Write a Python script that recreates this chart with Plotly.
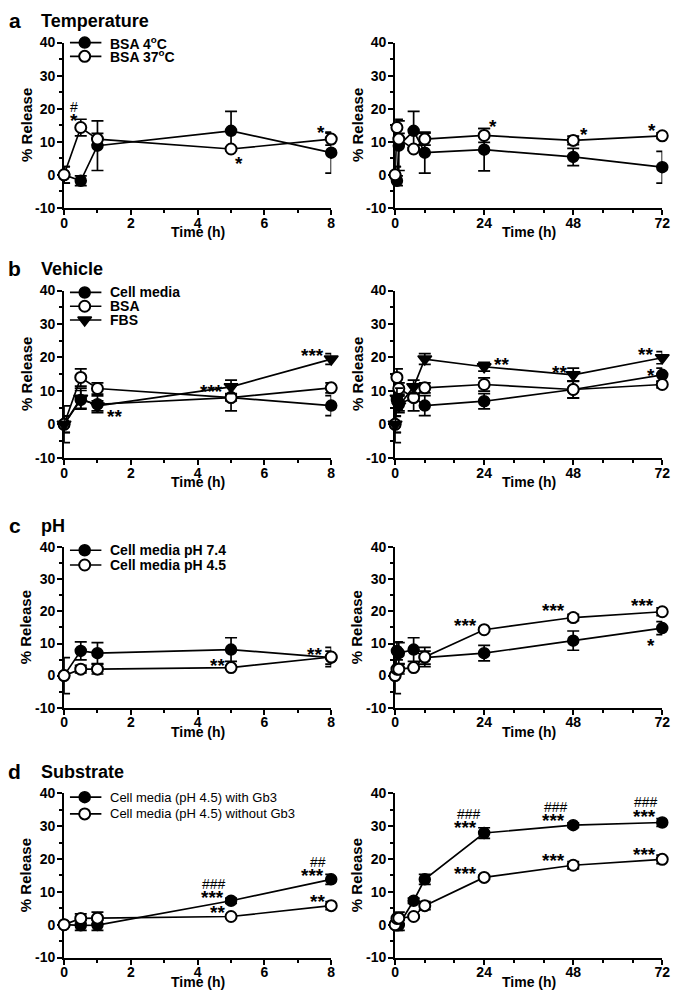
import plotly.graph_objects as go

# time points (h)
t_all = [0, 0.5, 1, 5, 8, 24, 48, 72]
y_tick_vals = [-10, 0, 10, 20, 30, 40]
y_tick_text = ['-10', '0', '10', '20', '30', '40']
x_short_ticks = [0, 2, 4, 6, 8]
x_long_ticks = [0, 24, 48, 72]

# a - Temperature
bsa4_mean = [0, -1.8, 8.8, 13.3, 6.7, 7.6, 5.4, 2.3]
bsa4_err = [2.5, 1.5, 7.5, 5.9, 6.2, 6.4, 2.6, 4.8]
bsa37_mean = [0, 14.3, 10.8, 7.8, 10.8, 11.9, 10.4, 11.8]
bsa37_err = [2.5, 2.5, 1.7, 0.4, 1.8, 2.1, 1.3, 0.9]

# b - Vehicle
cm_mean = [0, 7.3, 6.0, 8.0, 5.6, 6.9, 10.4, 14.8]
cm_err = [5.5, 2.8, 2.5, 1.0, 3.0, 2.3, 2.6, 2.0]
bsa_mean = [0, 14.0, 10.7, 8.0, 10.9, 11.9, 10.4, 11.9]
bsa_err = [2.5, 2.6, 1.7, 4.0, 1.5, 2.0, 2.5, 1.0]
fbs_mean = [0, 7.8, 5.5, 11.2, 19.5, 17.2, 14.8, 19.9]
fbs_err = [2.4, 3.0, 1.5, 2.0, 1.6, 1.3, 2.0, 1.8]

# c - pH
ph74_mean = [0, 7.7, 7.0, 8.1, 5.6, 7.0, 10.9, 14.8]
ph74_err = [5.6, 2.8, 3.3, 3.7, 2.0, 2.4, 3.0, 2.0]
ph45_mean = [0, 2.0, 2.0, 2.5, 5.8, 14.3, 18.1, 19.9]
ph45_err = [0.5, 1.2, 1.5, 0.3, 3.0, 0.5, 1.0, 1.2]

# d - Substrate
gb3_mean = [0, -0.2, -0.1, 7.3, 13.8, 27.9, 30.3, 31.1]
gb3_err = [0.5, 1.5, 1.6, 0.8, 1.5, 1.6, 0.7, 1.2]
nogb3_mean = [0, 1.9, 2.0, 2.5, 5.8, 14.4, 18.1, 19.9]
nogb3_err = [0.5, 1.4, 1.8, 0.4, 1.2, 0.6, 1.1, 1.3]

# significance marks: (text, time, value)
marks_a_left = [('#', 0.3, 20.5), ('*', 0.3, 17.5), ('*', 5.25, 4.6), ('*', 7.7, 14.0)]
marks_a_right = [('*', 26.5, 15.9), ('*', 50.8, 13.4), ('*', 69.3, 14.6)]
marks_b_left = [('***', -0.25, 6.4), ('**', 1.5, 3.6), ('***', 4.4, 10.9), ('***', 7.45, 21.9)]
marks_b_right = [('**', 28.7, 19.1), ('**', 44.2, 16.7), ('**', 67.6, 22.0), ('*', 68.9, 15.7)]
marks_c_left = [('**', 4.6, 4.4), ('**', 7.5, 7.7)]
marks_c_right = [('***', 19.0, 16.9), ('***', 42.8, 21.5), ('***', 66.7, 23.2), ('*', 68.9, 10.7)]
marks_d_left = [('###', 4.5, 12.4), ('***', 4.45, 9.4), ('**', 4.6, 4.9),
                ('##', 7.6, 19.0), ('***', 7.45, 16.2), ('**', 7.6, 8.3)]
marks_d_right = [('###', 19.9, 33.7), ('***', 19.0, 30.7), ('###', 43.3, 35.7), ('***', 42.8, 32.9),
                 ('###', 67.6, 37.2), ('***', 67.1, 34.2), ('***', 19.0, 16.7), ('***', 42.8, 20.7),
                 ('***', 67.1, 22.7)]

FONT = 'Liberation Sans'
PAGE_W, PAGE_H = 685, 1000
OFF = 8  # default body margin of the html page
W, H = PAGE_W - OFF, PAGE_H - OFF

marker_styles = {
    'filled': dict(symbol='circle', size=11, color='black', line=dict(color='black', width=1.5)),
    'open': dict(symbol='circle', size=11, color='white', line=dict(color='black', width=2)),
    'tri': dict(symbol='triangle-down', size=12, color='black', line=dict(color='black', width=1.5)),
}

panels = [
    dict(letter='a', title='Temperature', top=35, bottom=203,
         series=[('BSA 4<sup>o</sup>C', bsa4_mean, bsa4_err, 'filled'),
                 ('BSA 37<sup>o</sup>C', bsa37_mean, bsa37_err, 'open')],
         marks=(marks_a_left, marks_a_right), legend_rows=[35, 49], legend_bold=True),
    dict(letter='b', title='Vehicle', top=287, bottom=457,
         series=[('Cell media', cm_mean, cm_err, 'filled'),
                 ('BSA', bsa_mean, bsa_err, 'open'),
                 ('FBS', fbs_mean, fbs_err, 'tri')],
         marks=(marks_b_left, marks_b_right), legend_rows=[289, 303, 317], legend_bold=True),
    dict(letter='c', title='pH', top=548, bottom=711,
         series=[('Cell media pH 7.4', ph74_mean, ph74_err, 'filled'),
                 ('Cell media pH 4.5', ph45_mean, ph45_err, 'open')],
         marks=(marks_c_left, marks_c_right), legend_rows=[551, 566], legend_bold=True),
    dict(letter='d', title='Substrate', top=798, bottom=965,
         series=[('Cell media (pH 4.5) with Gb3', gb3_mean, gb3_err, 'filled'),
                 ('Cell media (pH 4.5) without Gb3', nogb3_mean, nogb3_err, 'open')],
         marks=(marks_d_left, marks_d_right), legend_rows=[802, 819], legend_bold=False),
]

cols = [dict(x0=61, x1=333, n=5, xmax=8, ticks=x_short_ticks, minor=1),
        dict(x0=398, x1=670, n=8, xmax=72, ticks=x_long_ticks, minor=8)]

fig = go.Figure()
layout = {}
annotations = []


def axname(prefix, k):
    return prefix if k == 1 else f'{prefix}{k}'


# page pixel -> paper fraction
def px_x(v):
    return (v - OFF) / W


def px_y(v):
    return 1 - (v - OFF) / H


for i, p in enumerate(panels):
    for j, c in enumerate(cols):
        k = 2 * i + j + 1
        xa, ya = axname('x', k), axname('y', k)
        n = c['n']
        for name, mean, err, style in p['series']:
            fig.add_trace(go.Scatter(
                x=t_all[:n], y=mean[:n], xaxis=xa, yaxis=ya,
                mode='lines+markers', cliponaxis=False, showlegend=False,
                line=dict(color='black', width=1.7),
                marker=marker_styles[style],
                error_y=dict(type='data', array=err[:n], color='black', thickness=1.7, width=6),
            ))
        axis_common = dict(showline=True, linecolor='black', linewidth=2, ticks='outside',
                           ticklen=5, tickwidth=2, tickcolor='black', showgrid=False, zeroline=False,
                           layer='below traces', fixedrange=True,
                           tickfont=dict(family=FONT, size=14, color='black', weight='bold'))
        layout[axname('xaxis', k)] = dict(
            domain=[px_x(c['x0']), px_x(c['x1'])], anchor=ya, range=[0, c['xmax']],
            tickmode='array', tickvals=c['ticks'], ticklabelstandoff=-4,
            minor=dict(tickmode='linear', tick0=0, dtick=c['minor'], ticks='outside',
                       ticklen=3, tickwidth=2, tickcolor='black'),
            **axis_common)
        layout[axname('yaxis', k)] = dict(
            domain=[px_y(p['bottom']), px_y(p['top'])], anchor=xa, range=[-10, 40],
            tickmode='array', tickvals=y_tick_vals, ticktext=y_tick_text, ticklabelstandoff=-1,
            minor=dict(tickmode='linear', tick0=0, dtick=5, ticks='outside',
                       ticklen=3, tickwidth=2, tickcolor='black'),
            **axis_common)
        # axis titles
        annotations.append(dict(text='<b>% Release</b>', xref='paper', yref='paper',
                                x=px_x(c['x0'] - 39), y=px_y((p['top'] + p['bottom']) / 2),
                                xanchor='center', yanchor='middle',
                                textangle=-90, showarrow=False,
                                font=dict(family=FONT, size=15, color='black')))
        annotations.append(dict(text='<b>Time (h)</b>', xref='paper', yref='paper',
                                x=px_x((c['x0'] + c['x1']) / 2), y=px_y(p['bottom'] + 25),
                                xanchor='center', yanchor='middle',
                                showarrow=False, font=dict(family=FONT, size=14, color='black')))
        # significance marks
        for txt, tx, ty in p['marks'][j]:
            if '#' in txt:
                f = dict(family=FONT, size=14, color='black')
            else:
                f = dict(family=FONT, size=19, color='black', weight='bold')
            annotations.append(dict(text=txt, xref=xa, yref=ya, x=tx, y=ty, showarrow=False,
                                    xanchor='center', yanchor='middle',
                                    font=f, yshift=-4 if '*' in txt else 0))
    # panel heading
    annotations.append(dict(text=f'<b>{p["letter"]}</b>', xref='paper', yref='paper',
                            x=px_x(11), y=px_y(p['top'] - 22), xanchor='center', yanchor='middle',
                            showarrow=False, font=dict(family=FONT, size=21, color='black')))
    annotations.append(dict(text=f'<b>{p["title"]}</b>', xref='paper', yref='paper',
                            x=px_x(35), y=px_y(p['top'] - 22), xanchor='left', yanchor='middle',
                            showarrow=False, font=dict(family=FONT, size=18, color='black')))
    # legend (drawn on a transparent pixel overlay axis)
    for (name, mean, err, style), row in zip(p['series'], p['legend_rows']):
        fig.add_trace(go.Scatter(x=[67, 99], y=[row, row], xaxis='x9', yaxis='y9', mode='lines',
                                 line=dict(color='black', width=1.7), showlegend=False,
                                 hoverinfo='skip'))
        fig.add_trace(go.Scatter(x=[82], y=[row], xaxis='x9', yaxis='y9', mode='markers',
                                 marker=marker_styles[style], showlegend=False, hoverinfo='skip',
                                 cliponaxis=False))
        label = f'<b>{name}</b>' if p['legend_bold'] else name
        annotations.append(dict(text=label, xref='paper', yref='paper', x=px_x(106), y=px_y(row),
                                xanchor='left', yanchor='middle', showarrow=False,
                                font=dict(family=FONT, size=14 if p['legend_bold'] else 13,
                                          color='black')))

layout['xaxis9'] = dict(domain=[0, 1], range=[OFF, PAGE_W], visible=False, fixedrange=True,
                        anchor='y9')
layout['yaxis9'] = dict(domain=[0, 1], range=[PAGE_H, OFF], visible=False, fixedrange=True,
                        anchor='x9')

fig.update_layout(
    width=W, height=H, margin=dict(l=0, r=0, t=0, b=0),
    paper_bgcolor='white', plot_bgcolor='rgba(0,0,0,0)', showlegend=False,
    annotations=annotations, **layout)

fig.write_html('out.html')
